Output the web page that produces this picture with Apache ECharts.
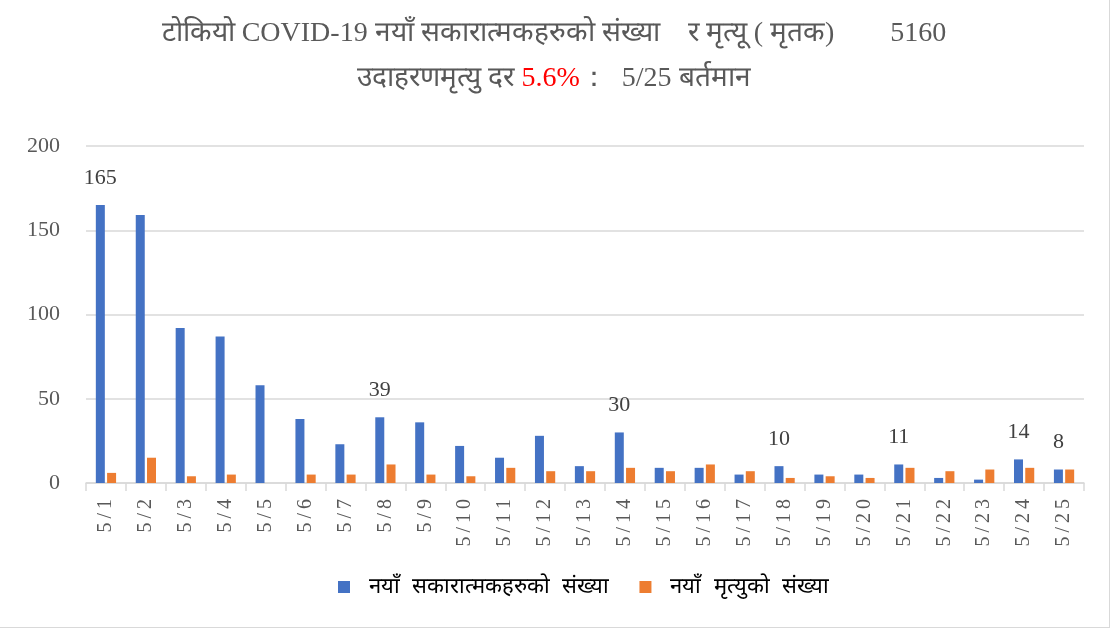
<!DOCTYPE html>
<html><head><meta charset="utf-8">
<script src="https://cdn.jsdelivr.net/npm/echarts@6/dist/echarts.min.js"></script>
<style>html,body{margin:0;padding:0;background:#fff}#c{width:1110px;height:628px;box-sizing:border-box;border-right:1px solid #d9d9d9;border-bottom:1px solid #d9d9d9}</style>
</head><body><div id="c"></div>
<script>
const categories = ['5/1','5/2','5/3','5/4','5/5','5/6','5/7','5/8','5/9','5/10','5/11','5/12','5/13','5/14','5/15','5/16','5/17','5/18','5/19','5/20','5/21','5/22','5/23','5/24','5/25'];
const newPositives = [165,159,92,87,58,38,23,39,36,22,15,28,10,30,9,9,5,10,5,5,11,3,2,14,8];
const newDeaths = [6,15,4,5,0,5,5,11,5,4,9,7,7,9,7,11,7,3,4,3,9,7,8,9,8];
const labeledDays = ['5/1','5/8','5/14','5/18','5/21','5/24','5/25'];
const yTicks = [0,50,100,150,200];
const seriesNames = ['नयाँ सकारात्मकहरुको संख्या','नयाँ मृत्युको संख्या'];

const serif = "'Liberation Serif','DejaVu Serif',serif";
const chart = echarts.init(document.getElementById('c'));
chart.setOption({
  animation:false,
  title:{
    left:549, textAlign:'center', top:6,
    text:'{a|टोकियो COVID-19 नयाँ सकारात्मकहरुको संख्या　र मृत्यू ( मृतक)　　5160}\n{a|उदाहरणमृत्यु दर }{r|5.6%}{a|：  5/25 बर्तमान}',
    textStyle:{
      fontWeight:'normal',
      rich:{
        a:{fontSize:28,color:'#595959',fontFamily:serif,fontWeight:'normal',lineHeight:45},
        r:{fontSize:28,color:'#ff0000',fontFamily:serif,fontWeight:'normal',lineHeight:45}
      }
    }
  },
  legend:{
    bottom:24, left:333, itemWidth:12, itemHeight:12, itemGap:30,
    icon:'rect',
    textStyle:{fontSize:22,color:'#000',padding:[0,0,0,14]},
    formatter:n=>n.split(' ').join('  '),
    data:seriesNames
  },
  grid:{left:86,right:25,top:146,bottom:144},
  xAxis:{
    type:'category', data:categories,
    axisLine:{lineStyle:{color:'#d9d9d9',width:1.5}},
    axisTick:{show:true,length:8,lineStyle:{color:'#d9d9d9',width:1.5}},
    axisLabel:{rotate:90,fontSize:20,color:'#595959',fontFamily:serif,margin:16,
      formatter:v=>v.split('').join('\u2009')}
  },
  yAxis:{
    type:'value', min:0, max:200, interval:50,
    axisLine:{show:false}, axisTick:{show:false},
    splitLine:{lineStyle:{color:'#d9d9d9',width:1.5}},
    axisLabel:{fontSize:22,color:'#595959',fontFamily:serif,margin:26}
  },
  series:[
    {name:seriesNames[0],type:'bar',data:newPositives,barWidth:9,barGap:'25%',
     itemStyle:{color:'#4472c4'},
     label:{show:true,position:'top',distance:16,fontSize:22,color:'#404040',fontFamily:serif,
       formatter:p=>labeledDays.includes(p.name)?String(p.value):''}},
    {name:seriesNames[1],type:'bar',data:newDeaths,barWidth:9,
     itemStyle:{color:'#ed7d31'}}
  ]
});
</script></body></html>
